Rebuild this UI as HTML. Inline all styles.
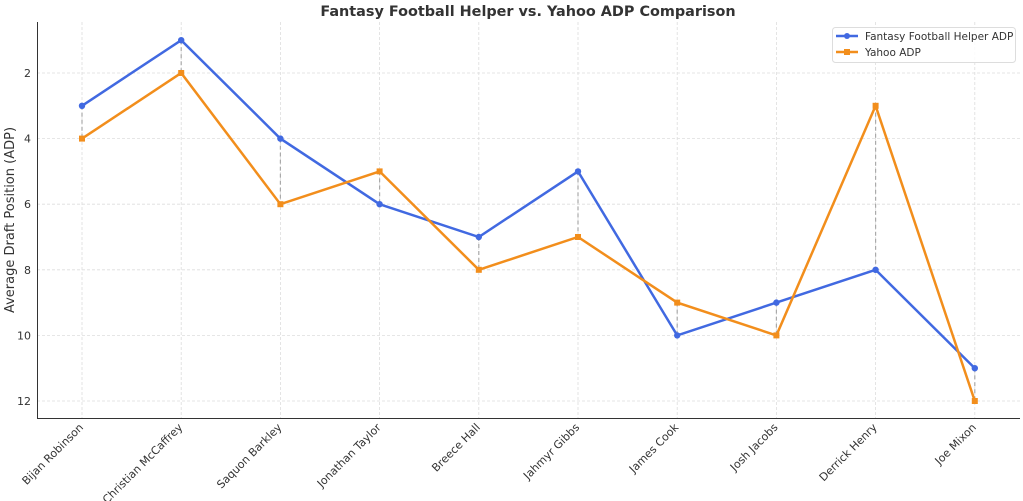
<!DOCTYPE html>
<html><head><meta charset="utf-8"><style>body{margin:0;background:#fff}svg{display:block}</style></head><body>
<svg width="1023" height="501" xmlns="http://www.w3.org/2000/svg" font-family="DejaVu Sans, Liberation Sans, sans-serif">
<rect width="1023" height="501" fill="#fff"/>
<text x="528" y="16" text-anchor="middle" font-size="14.4" font-weight="bold" fill="#333">Fantasy Football Helper vs. Yahoo ADP Comparison</text>
<g stroke="#ddd" stroke-width="0.8" stroke-dasharray="3,2">
<line x1="82" y1="22" x2="82" y2="418"/><line x1="181.2" y1="22" x2="181.2" y2="418"/><line x1="280.4" y1="22" x2="280.4" y2="418"/><line x1="379.6" y1="22" x2="379.6" y2="418"/><line x1="478.8" y1="22" x2="478.8" y2="418"/><line x1="578" y1="22" x2="578" y2="418"/><line x1="677.2" y1="22" x2="677.2" y2="418"/><line x1="776.4" y1="22" x2="776.4" y2="418"/><line x1="875.6" y1="22" x2="875.6" y2="418"/><line x1="974.8" y1="22" x2="974.8" y2="418"/>
<line x1="37" y1="73" x2="1020" y2="73"/><line x1="37" y1="138.6" x2="1020" y2="138.6"/><line x1="37" y1="204.2" x2="1020" y2="204.2"/><line x1="37" y1="269.8" x2="1020" y2="269.8"/><line x1="37" y1="335.4" x2="1020" y2="335.4"/><line x1="37" y1="401" x2="1020" y2="401"/>
</g>
<g stroke="#aaa" stroke-width="1.2" stroke-dasharray="4,3">
<line x1="82" y1="105.8" x2="82" y2="138.6"/><line x1="181.2" y1="40.2" x2="181.2" y2="73"/><line x1="280.4" y1="138.6" x2="280.4" y2="204.2"/><line x1="379.6" y1="171.4" x2="379.6" y2="204.2"/><line x1="478.8" y1="237" x2="478.8" y2="269.8"/><line x1="578" y1="171.4" x2="578" y2="237"/><line x1="677.2" y1="302.6" x2="677.2" y2="335.4"/><line x1="776.4" y1="302.6" x2="776.4" y2="335.4"/><line x1="875.6" y1="105.8" x2="875.6" y2="269.8"/><line x1="974.8" y1="368.2" x2="974.8" y2="401"/>
</g>
<polyline fill="none" stroke="#4169E1" stroke-width="2.5" points="82,105.8 181.2,40.2 280.4,138.6 379.6,204.2 478.8,237 578,171.4 677.2,335.4 776.4,302.6 875.6,269.8 974.8,368.2"/>
<g fill="#4169E1"><circle cx="82" cy="105.8" r="3.2"/><circle cx="181.2" cy="40.2" r="3.2"/><circle cx="280.4" cy="138.6" r="3.2"/><circle cx="379.6" cy="204.2" r="3.2"/><circle cx="478.8" cy="237" r="3.2"/><circle cx="578" cy="171.4" r="3.2"/><circle cx="677.2" cy="335.4" r="3.2"/><circle cx="776.4" cy="302.6" r="3.2"/><circle cx="875.6" cy="269.8" r="3.2"/><circle cx="974.8" cy="368.2" r="3.2"/></g>
<polyline fill="none" stroke="#F28E1C" stroke-width="2.5" points="82,138.6 181.2,73 280.4,204.2 379.6,171.4 478.8,269.8 578,237 677.2,302.6 776.4,335.4 875.6,105.8 974.8,401"/>
<g fill="#F28E1C"><rect x="79" y="135.6" width="6" height="6"/><rect x="178.2" y="70" width="6" height="6"/><rect x="277.4" y="201.2" width="6" height="6"/><rect x="376.6" y="168.4" width="6" height="6"/><rect x="475.8" y="266.8" width="6" height="6"/><rect x="575" y="234" width="6" height="6"/><rect x="674.2" y="299.6" width="6" height="6"/><rect x="773.4" y="332.4" width="6" height="6"/><rect x="872.6" y="102.8" width="6" height="6"/><rect x="971.8" y="398" width="6" height="6"/></g>
<g stroke="#333" stroke-width="1"><line x1="37.5" y1="22" x2="37.5" y2="418.5"/><line x1="37" y1="418.5" x2="1020" y2="418.5"/></g>
<g font-size="11" fill="#333" text-anchor="end">
<text x="31" y="77">2</text><text x="31" y="142.6">4</text><text x="31" y="208.2">6</text><text x="31" y="273.8">8</text><text x="31" y="339.4">10</text><text x="31" y="405">12</text>
</g>
<text transform="translate(14,220) rotate(-90)" text-anchor="middle" font-size="13" fill="#333">Average Draft Position (ADP)</text>
<g font-size="11" fill="#333" text-anchor="end">
<text transform="translate(84,428) rotate(-45)">Bijan Robinson</text>
<text transform="translate(183.2,428) rotate(-45)">Christian McCaffrey</text>
<text transform="translate(282.4,428) rotate(-45)">Saquon Barkley</text>
<text transform="translate(381.6,428) rotate(-45)">Jonathan Taylor</text>
<text transform="translate(480.8,428) rotate(-45)">Breece Hall</text>
<text transform="translate(580,428) rotate(-45)">Jahmyr Gibbs</text>
<text transform="translate(679.2,428) rotate(-45)">James Cook</text>
<text transform="translate(778.4,428) rotate(-45)">Josh Jacobs</text>
<text transform="translate(877.6,428) rotate(-45)">Derrick Henry</text>
<text transform="translate(976.8,428) rotate(-45)">Joe Mixon</text>
</g>
<rect x="832.5" y="27.5" width="183" height="35" rx="3" fill="#fff" fill-opacity="0.85" stroke="#ddd"/>
<line x1="836" y1="36" x2="858" y2="36" stroke="#4169E1" stroke-width="2.5"/><circle cx="847" cy="36" r="3" fill="#4169E1"/>
<line x1="836" y1="52" x2="858" y2="52" stroke="#F28E1C" stroke-width="2.5"/><rect x="844" y="49" width="6" height="6" fill="#F28E1C"/>
<text x="865" y="40" font-size="10.5" fill="#333">Fantasy Football Helper ADP</text>
<text x="865" y="56" font-size="10.5" fill="#333">Yahoo ADP</text>
</svg>
</body></html>
